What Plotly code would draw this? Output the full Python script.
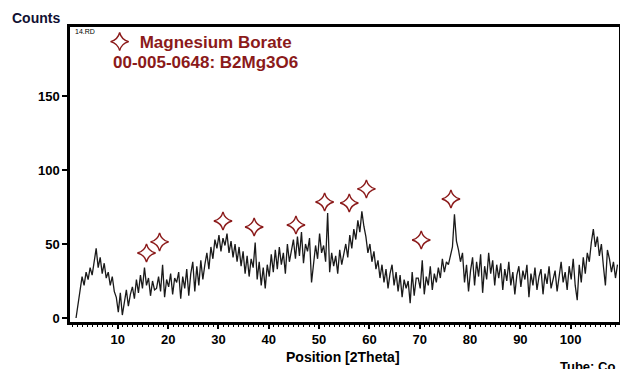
import plotly.graph_objects as go

# ---- data ----
theta_start = 1.7   # first 2Theta position
theta_step = 0.4    # 2Theta step between readings

counts = [
    0, 9, 21, 28, 22, 31, 26, 34, 29, 38,
    47, 34, 41, 30, 37, 27, 31, 22, 28, 18,
    14, 4, 17, 2, 12, 19, 8, 16, 21, 13,
    26, 17, 29, 20, 34, 22, 27, 15, 25, 19,
    20, 28, 18, 36, 14, 26, 21, 30, 16, 27,
    24, 31, 13, 28, 20, 33, 15, 30, 38, 18,
    35, 22, 39, 26, 36, 44, 33, 48, 40, 53,
    47, 56, 45, 54, 49, 57, 44, 52, 41, 50,
    38, 48, 35, 45, 30, 42, 28, 40, 34, 51,
    26, 38, 22, 34, 20, 36, 28, 43, 31, 46,
    33, 48, 36, 44, 30, 50, 38, 46, 53, 40,
    55, 42, 58, 37, 50, 45, 54, 24, 36, 49,
    40, 57, 44, 49, 38, 71, 31, 44, 35, 42,
    30, 46, 36, 42, 50, 41, 56, 47, 60, 53,
    66, 58, 72, 62, 55, 44, 50, 38, 45, 33,
    39, 27, 36, 24, 33, 20, 30, 36, 22, 31,
    18, 29, 14, 26, 20, 25, 10, 31, 15, 27,
    27, 20, 39, 16, 28, 22, 35, 19, 30, 24,
    34, 27, 40, 31, 38, 36, 43, 48, 70, 52,
    46, 38, 44, 24, 36, 18, 32, 41, 22, 38,
    28, 43, 17, 35, 26, 44, 30, 39, 22, 36,
    27, 37, 19, 33, 25, 38, 22, 31, 16, 29,
    35, 21, 32, 26, 36, 14, 30, 22, 34, 19,
    28, 33, 16, 30, 23, 35, 20, 27, 32, 18,
    29, 38, 24, 31, 19, 35, 26, 40, 22, 12,
    36, 24, 41, 30, 44, 38, 51, 60, 48, 55,
    42, 50, 35, 22, 46, 40, 31, 38, 27, 36,
]
theta = [round(theta_start + theta_step * i, 2) for i in range(len(counts))]

# Magnesium borate reference-peak markers (2Theta, marker height in counts)
peak_theta = [15.7, 18.3, 30.9, 37.1, 45.4, 51.1, 56.0, 59.4, 70.3, 76.2]
peak_marker_counts = [43.9, 51.4, 65.5, 61.5, 62.8, 78.4, 77.7, 87.2, 52.7, 80.4]

x_ticks = [10, 20, 30, 40, 50, 60, 70, 80, 90, 100]
y_ticks = [0, 50, 100, 150]

phase_name = "Magnesium Borate"
phase_card = "00-005-0648: B2Mg3O6"

DARKRED = "#8b1a1a"
FONT = "Liberation Sans"

fig = go.Figure()
fig.add_trace(go.Scatter(
    x=theta, y=counts, mode="lines",
    line=dict(color="#1a1a1a", width=1.3),
    showlegend=False, hoverinfo="skip",
))
fig.add_trace(go.Scatter(
    x=peak_theta, y=peak_marker_counts, mode="markers",
    name=phase_name,
    marker=dict(symbol="star-diamond", size=13, color="white",
                line=dict(color=DARKRED, width=1.4)),
    showlegend=True,
))

# the page body adds an 8px offset, so the figure is 8px smaller and margins shifted
fig.update_layout(
    width=620, height=361,
    margin=dict(l=62, r=6, t=19, b=47),
    paper_bgcolor="white", plot_bgcolor="white",
    font=dict(family=FONT, color="black"),
    showlegend=True,
    legend=dict(x=0.054, y=1.01, xanchor="left", yanchor="top",
                bgcolor="rgba(0,0,0,0)", borderwidth=0,
                font=dict(family=FONT, size=17, color=DARKRED, weight="bold"),
                itemsizing="trace", tracegroupgap=0),
    xaxis=dict(
        range=[0.5, 109.6], tickvals=x_ticks, ticks="outside", ticklen=4,
        tickwidth=1.5, tickcolor="black",
        showline=True, linecolor="black", linewidth=2.5, mirror=True,
        showgrid=False, zeroline=False,
        tickfont=dict(family=FONT, size=13, color="black", weight="bold"),
        minor=dict(dtick=1, ticks="outside", ticklen=2, tickcolor="black", tickwidth=1),
    ),
    yaxis=dict(
        range=[-2.7, 196.6], tickvals=y_ticks, ticks="outside", ticklen=5,
        tickwidth=1.5, tickcolor="black",
        showline=True, linecolor="black", linewidth=2.5, mirror=True,
        showgrid=False, zeroline=False,
        tickfont=dict(family=FONT, size=13, color="black", weight="bold"),
    ),
    annotations=[
        dict(text="Counts", xref="paper", yref="paper", x=-0.109, y=1.03,
             xanchor="left", yanchor="middle", showarrow=False,
             font=dict(family=FONT, size=14, color="#111133", weight="bold")),
        dict(text="Position [2Theta]", xref="paper", yref="paper", x=0.498, y=-0.119,
             xanchor="center", yanchor="middle", showarrow=False,
             font=dict(family=FONT, size=14, color="black", weight="bold")),
        dict(text="Tube: Co", xref="paper", yref="paper", x=0.888, y=-0.15,
             xanchor="left", yanchor="middle", showarrow=False,
             font=dict(family=FONT, size=13, color="black", weight="bold")),
        dict(text="14.RD", xref="paper", yref="paper", x=0.005, y=0.985,
             xanchor="left", yanchor="middle", showarrow=False,
             font=dict(family=FONT, size=7, color="black")),
        dict(text=phase_card, xref="paper", yref="paper", x=0.0743, y=0.881,
             xanchor="left", yanchor="middle", showarrow=False,
             font=dict(family=FONT, size=17, color=DARKRED, weight="bold")),
    ],
)

fig.write_html("out.html")
